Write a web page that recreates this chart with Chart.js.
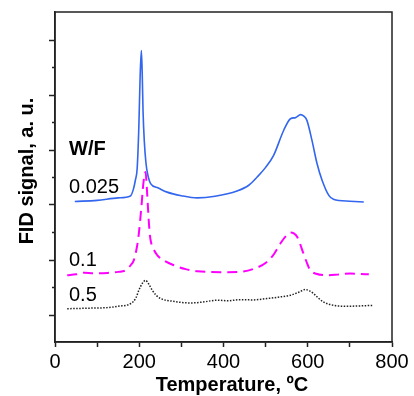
<!DOCTYPE html>
<html>
<head>
<meta charset="utf-8">
<title>FID signal vs temperature</title>
<script src="https://cdn.jsdelivr.net/npm/chart.js@4/dist/chart.umd.min.js"></script>
<style>
    html, body { margin: 0; padding: 0; background: #fff; }
    canvas { display: block; }
</style>
</head>
<body>
<canvas id="grafica" width="414" height="396"></canvas>
<script>
// Datos: temperatura (ºC) y señal FID (u. a.) para cada W/F.

var tempW0025 = [47, 100, 150, 179, 186, 191, 195, 199, 202, 205, 207, 209, 212, 216, 220, 227,
    245, 266, 300, 338, 380, 432, 460, 480, 500, 519, 543, 559, 571, 583, 590, 598,
    610, 622, 634, 650, 661, 700, 733];
var sigW0025 = [5.11, 5.15, 5.24, 5.31, 5.55, 5.9, 6.3, 7.8, 9.6, 10.6, 9.8, 8.4, 7.3, 6.5, 6.1, 5.76,
    5.6, 5.45, 5.32, 5.24, 5.3, 5.49, 5.7, 6.0, 6.35, 6.79, 7.7, 8.12, 8.16, 8.27, 8.22, 8.06,
    7.33, 6.49, 5.88, 5.33, 5.19, 5.12, 5.09];

var tempW01 = [29, 50, 70, 90, 124, 150, 168, 180, 187, 195, 199, 205, 210, 215, 218, 221, 224, 227,
    235, 243, 260, 282, 310, 338, 400, 440, 470, 503, 520, 535, 548, 559, 567, 575,
    590, 600, 606, 620, 646, 670, 701, 720, 745];
var sigW01 = [2.43, 2.46, 2.52, 2.5, 2.51, 2.55, 2.61, 2.8, 2.97, 3.5, 3.94, 4.9, 5.8, 6.18, 5.6, 4.8, 4.1, 3.7,
    3.35, 3.15, 2.95, 2.79, 2.65, 2.57, 2.54, 2.55, 2.65, 2.91, 3.2, 3.58, 3.85, 3.98, 3.95, 3.82,
    3.21, 2.8, 2.61, 2.48, 2.43, 2.45, 2.49, 2.48, 2.46];

var tempW05 = [29, 80, 124, 150, 180, 192, 199, 208, 215, 222, 231, 240, 251, 280, 322, 350, 385,
    410, 440, 470, 503, 530, 559, 580, 594, 604, 614, 625, 638, 660, 685, 720, 753];
var sigW05 = [1.21, 1.23, 1.25, 1.3, 1.4, 1.6, 1.88, 2.15, 2.24, 2.12, 1.88, 1.7, 1.58, 1.48, 1.42, 1.45, 1.52,
    1.5, 1.54, 1.53, 1.58, 1.63, 1.7, 1.82, 1.91, 1.86, 1.76, 1.6, 1.45, 1.34, 1.3, 1.31, 1.33];

var xTickLabels = ['0', '200', '400', '600', '800'];
var seriesLabels = ['W/F', '0.025', '0.1', '0.5'];

var FONT = "'Liberation Sans', Arial, sans-serif";

function toPoints(xs, ys) {
    var pts = [];
    for (var i = 0; i < xs.length; i++) {
        pts.push({ x: xs[i], y: ys[i] });
    }
    return pts;
}

// Marco, marcas del eje Y (largas y cortas) y los textos.
var decoracion = {
    id: 'decoracion',
    afterDraw: function (chart) {
        var ctx = chart.ctx;
        var area = chart.chartArea;
        var yScale = chart.scales.y;

        ctx.save();
        ctx.strokeStyle = '#222';
        ctx.lineWidth = 1.5;
        ctx.strokeRect(area.left, area.top, area.right - area.left, area.bottom - area.top);

        // marcas del eje Y
        for (var v = 1; v < 12; v++) {
            var py = Math.round(yScale.getPixelForValue(v)) + 0.5;
            var len = (v % 2 === 1) ? 6 : 3;
            ctx.beginPath();
            ctx.moveTo(area.left - len, py);
            ctx.lineTo(area.left, py);
            ctx.stroke();
        }

        ctx.fillStyle = '#000';
        ctx.textBaseline = 'middle';

        // títulos de los ejes
        ctx.font = 'bold 20px ' + FONT;
        ctx.textAlign = 'center';
        ctx.fillText('Temperature, ºC', 232, 385);

        ctx.save();
        ctx.translate(27.5, 171);
        ctx.rotate(-Math.PI / 2);
        ctx.fillText('FID signal, a. u.', 0, 0);
        ctx.restore();

        // etiquetas de las curvas
        ctx.textAlign = 'left';
        ctx.fillText(seriesLabels[0], 69, 149);
        ctx.font = '20px ' + FONT;
        ctx.fillText(seriesLabels[1], 69, 187.5);
        ctx.fillText(seriesLabels[2], 69, 260);
        ctx.fillText(seriesLabels[3], 69, 295);
        ctx.restore();
    }
};

var context = document.getElementById('grafica').getContext('2d');

var chart = new Chart(context, {
    type: 'line',
    data: {
        datasets: [
            {
                label: '0.025',
                data: toPoints(tempW0025, sigW0025),
                borderColor: '#3366ee',
                borderWidth: 1.6,
                pointRadius: 0,
                cubicInterpolationMode: 'monotone',
                fill: false
            },
            {
                label: '0.1',
                data: toPoints(tempW01, sigW01),
                borderColor: '#ff00ff',
                borderWidth: 2,
                borderDash: [10, 6],
                pointRadius: 0,
                cubicInterpolationMode: 'monotone',
                fill: false
            },
            {
                label: '0.5',
                data: toPoints(tempW05, sigW05),
                borderColor: '#222',
                borderWidth: 1.5,
                borderDash: [1.5, 1.5],
                pointRadius: 0,
                cubicInterpolationMode: 'monotone',
                fill: false
            }
        ]
    },
    options: {
        responsive: false,
        animation: false,
        devicePixelRatio: 1,
        layout: { padding: { top: 12, right: 22, left: 0, bottom: 0 } },
        plugins: {
            legend: { display: false },
            tooltip: { enabled: false }
        },
        scales: {
            x: {
                type: 'linear',
                min: 0,
                max: 800,
                border: { display: true, color: '#222', width: 1.5 },
                grid: {
                    drawOnChartArea: false,
                    drawTicks: true,
                    tickLength: 5,
                    tickColor: '#222',
                    tickWidth: 1.5
                },
                ticks: {
                    stepSize: 100,
                    autoSkip: false,
                    maxRotation: 0,
                    padding: 3,
                    color: '#000',
                    font: { family: FONT, size: 20 },
                    callback: function (value) {
                        return value % 200 === 0 ? xTickLabels[value / 200] : '';
                    }
                },
                afterFit: function (scale) { scale.height = 54; }
            },
            y: {
                type: 'linear',
                min: 0,
                max: 12,
                border: { display: true, color: '#222', width: 1.5 },
                grid: { display: false },
                ticks: { display: false, stepSize: 1 },
                afterFit: function (scale) { scale.width = 55; }
            }
        }
    },
    plugins: [decoracion]
});
</script>
</body>
</html>
